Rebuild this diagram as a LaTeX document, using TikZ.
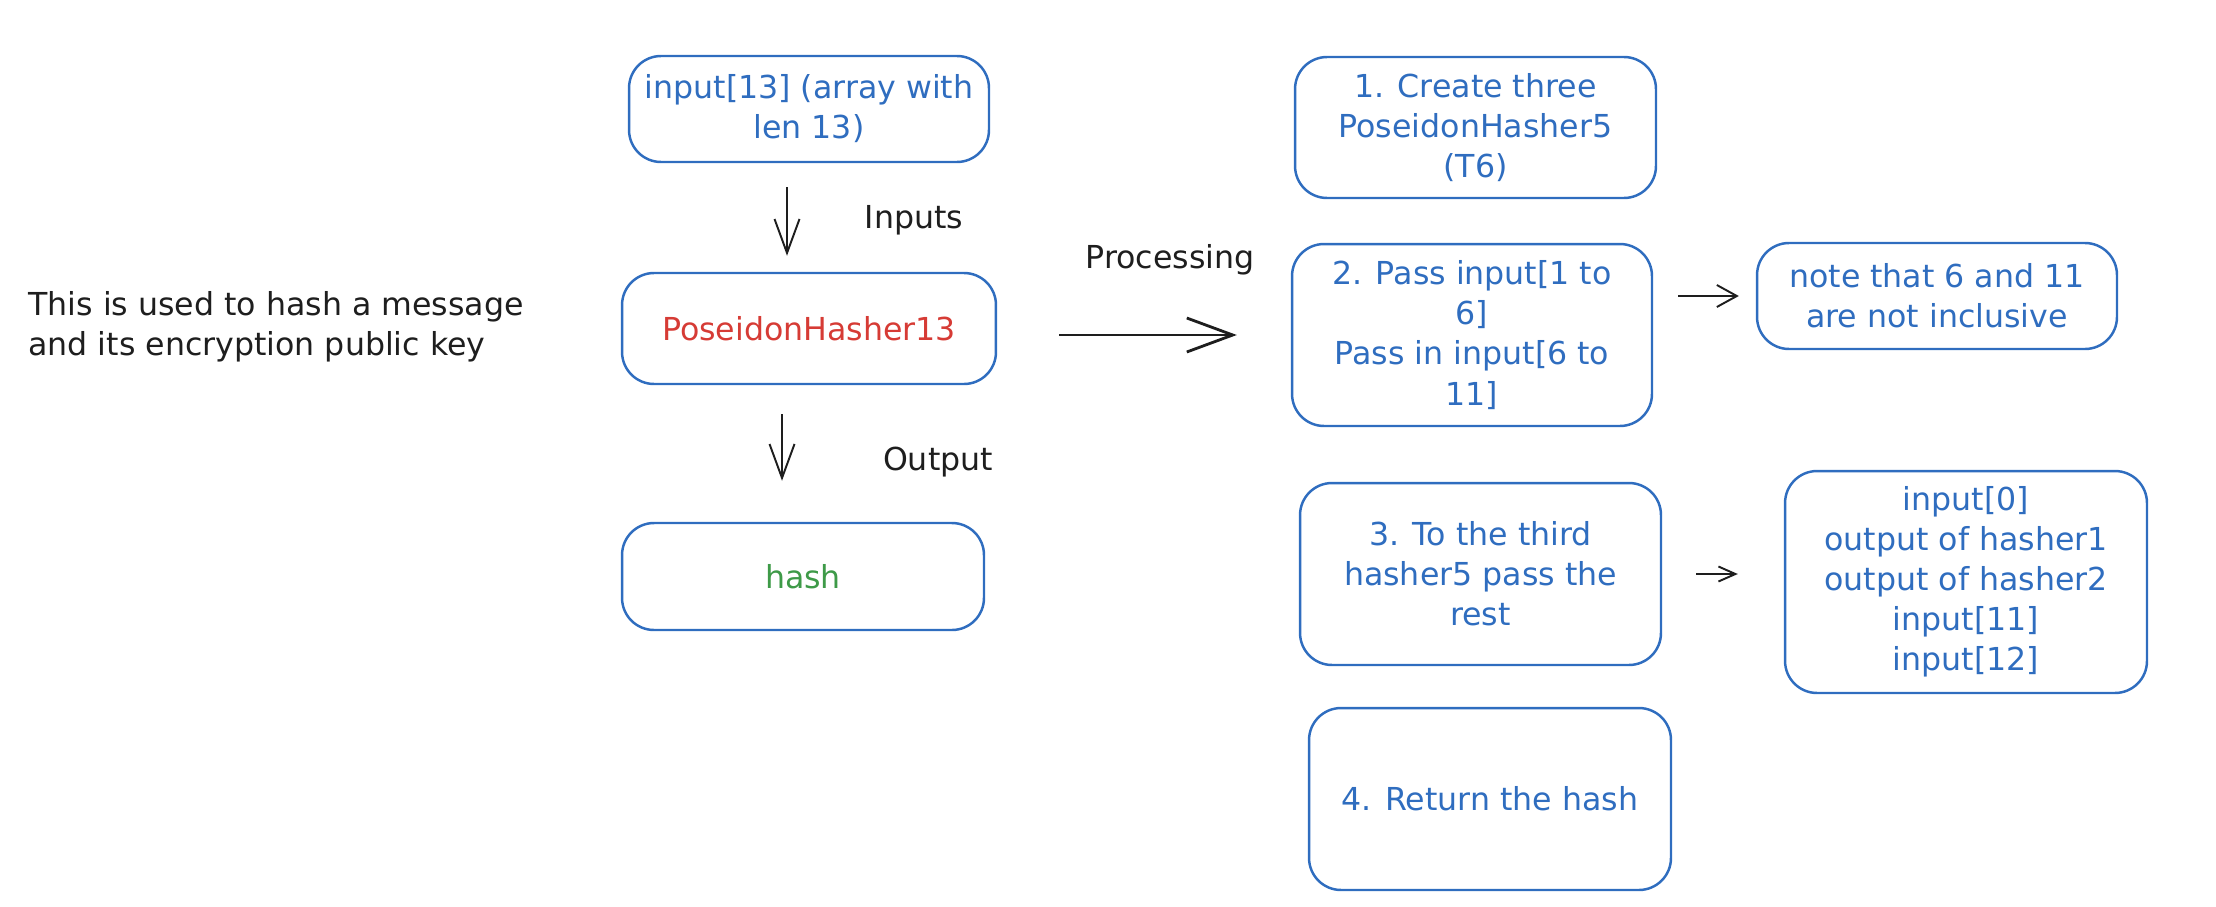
\documentclass[tikz,border=0pt]{standalone}
\usepackage{fontspec}
\setmainfont{DejaVu Sans}
\usetikzlibrary{arrows.meta,calc}
\definecolor{xblue}{HTML}{2F6DBF}
\definecolor{xred}{HTML}{D63B35}
\definecolor{xgreen}{HTML}{3E9A48}
\definecolor{xink}{HTML}{1E1E1E}
\tikzset{
  box/.style={draw=xblue, line width=1.4pt, rounded corners=0.64cm, align=center,
    text=xblue, inner sep=0pt, font=\fontsize{18}{22.8}\selectfont},
  lbl/.style={text=xink, inner sep=0pt, font=\fontsize{18}{22.8}\selectfont},
  arr/.style={draw=xink, line width=1.1pt},
}
\begin{document}
\begin{tikzpicture}[x=0.02cm, y=-0.02cm]
\useasboundingbox (0,0) rectangle (2216,906);
% left boxes
\node[box, minimum width=7.2cm, minimum height=2.12cm] (inp) at (809,109) {input[13] (array with\\len 13)};
\node[box, minimum width=7.48cm, minimum height=2.22cm, text=xred] (pos) at (809,328.5) {PoseidonHasher13};
\node[box, minimum width=7.24cm, minimum height=2.14cm, text=xgreen] (hash) at (803,576.5) {hash};
% right boxes
\node[box, minimum width=7.22cm, minimum height=2.82cm] (b1) at (1475.5,127.5) {1. Create three\\PoseidonHasher5\\(T6)};
\node[box, minimum width=7.2cm, minimum height=3.64cm] (b2) at (1472,335) {2. Pass input[1 to\\6]\\Pass in input[6 to\\11]};
\node[box, minimum width=7.2cm, minimum height=2.12cm] (note) at (1937,296) {note that 6 and 11\\are not inclusive};
\node[box, minimum width=7.22cm, minimum height=3.64cm] (b3) at (1480.5,574) {3. To the third\\hasher5 pass the\\rest};
\node[box, minimum width=7.24cm, minimum height=4.44cm] (b4) at (1966,582) {input[0]\\output of hasher1\\output of hasher2\\input[11]\\input[12]};
\node[box, minimum width=7.24cm, minimum height=3.64cm] (b5) at (1490,799) {4. Return the hash};
% labels
\node[lbl, anchor=west, align=left] (desc) at (28,326.5) {This is used to hash a message\\and its encryption public key};
\node[lbl] (linp) at (914,220) {Inputs};
\node[lbl] (lout) at (938,462) {Output};
\node[lbl] (lproc) at (1170,260) {Processing};
% connectors
\draw[arr, -{Straight Barb[length=0.68cm,width=0.5cm]}, shorten <=0.48cm, shorten >=0.32cm]
  ([xshift=-0.44cm]inp.south) -- ([xshift=-0.44cm]pos.north);
\draw[arr, -{Straight Barb[length=0.68cm,width=0.5cm]}, shorten <=0.58cm, shorten >=0.82cm]
  ([xshift=-0.54cm]pos.south) -- ([xshift=-0.54cm]pos.south |- hash.north);
\draw[arr, line width=1.6pt, -{Straight Barb[length=0.92cm,width=0.68cm]}, shorten <=1.24cm, shorten >=1.08cm]
  (pos.east |- b2.west) -- (b2.west);
\draw[arr, -{Straight Barb[length=0.4cm,width=0.44cm]}, shorten <=0.5cm, shorten >=0.34cm]
  (b2.east |- note.west) -- (note.west);
\draw[arr, -{Straight Barb[length=0.34cm,width=0.3cm]}, shorten <=0.68cm, shorten >=0.92cm]
  (b3.east) -- (b3.east -| b4.west);
\end{tikzpicture}
\end{document}
